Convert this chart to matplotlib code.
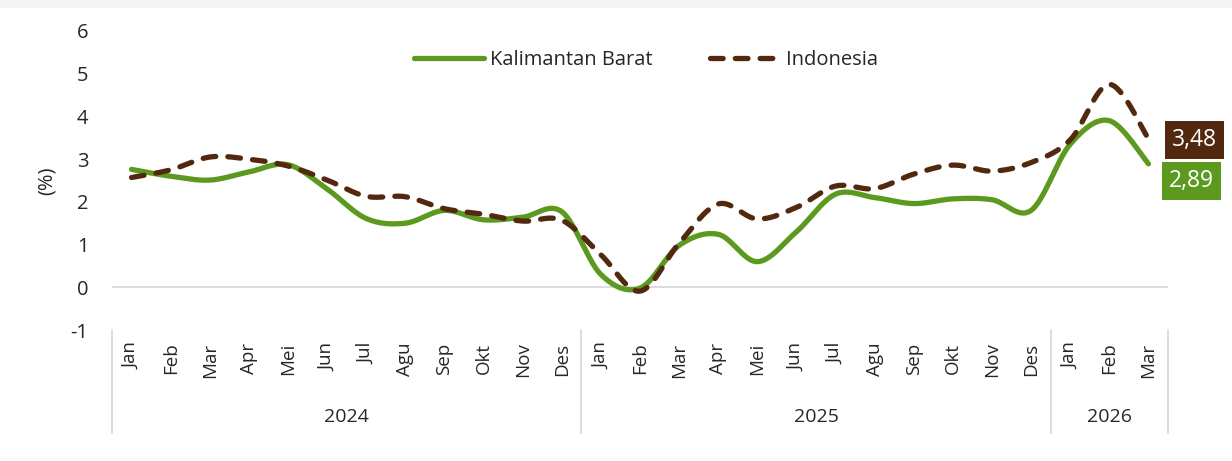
import numpy as np
import matplotlib
matplotlib.use("Agg")
import matplotlib.pyplot as plt
import matplotlib.transforms as mtransforms
from matplotlib.lines import Line2D
from matplotlib.patches import Rectangle

plt.rcParams['font.family'] = ['Open Sans', 'DejaVu Sans']

months = ["Jan", "Feb", "Mar", "Apr", "Mei", "Jun", "Jul", "Agu", "Sep", "Okt", "Nov", "Des",
          "Jan", "Feb", "Mar", "Apr", "Mei", "Jun", "Jul", "Agu", "Sep", "Okt", "Nov", "Des",
          "Jan", "Feb", "Mar"]
years = ["2024", "2025", "2026"]
year_counts = [12, 12, 3]

kalbar = [2.76, 2.60, 2.51, 2.70, 2.87, 2.30, 1.61, 1.50, 1.80, 1.58, 1.64, 1.77,
          0.30, -0.02, 0.98, 1.24, 0.60, 1.30, 2.18, 2.10, 1.96, 2.07, 2.05, 1.80,
          3.35, 3.90, 2.89]
indonesia = [2.57, 2.75, 3.05, 3.00, 2.84, 2.51, 2.13, 2.12, 1.84, 1.71, 1.55, 1.57,
             0.76, -0.09, 1.03, 1.95, 1.60, 1.87, 2.37, 2.31, 2.65, 2.86, 2.72, 2.92,
             3.45, 4.75, 3.48]

GREEN = '#5c9a1f'
BROWN = '#52290f'
GRID = '#d9d9d9'
TXT = '#262626'


def smooth(xs, ys, n=40):
    # excel-style smoothed line (bezier through the points)
    x = np.asarray(xs, float)
    y = np.asarray(ys, float)
    xp = np.concatenate([[x[0]], x, [x[-1]]])
    yp = np.concatenate([[y[0]], y, [y[-1]]])
    t = np.linspace(0, 1, n, endpoint=False)[:, None]
    out = []
    for i in range(len(x) - 1):
        p0 = np.array([xp[i], yp[i]])
        p1 = np.array([xp[i + 1], yp[i + 1]])
        p2 = np.array([xp[i + 2], yp[i + 2]])
        p3 = np.array([xp[i + 3], yp[i + 3]])
        b1 = p1 + (p2 - p0) / 6
        b2 = p2 - (p3 - p1) / 6
        seg = ((1 - t) ** 3) * p1 + 3 * ((1 - t) ** 2) * t * b1 + 3 * (1 - t) * t ** 2 * b2 + t ** 3 * p2
        out.append(seg)
    out.append(np.array([[x[-1], y[-1]]]))
    pts = np.vstack(out)
    return pts[:, 0], pts[:, 1]


W, H = 1232, 461
fig = plt.figure(figsize=(W / 100, H / 100), dpi=100)
fig.patches.append(Rectangle((0, 1 - 8 / H), 1, 8 / H, transform=fig.transFigure,
                             facecolor='#f4f4f4', edgecolor='none', zorder=0))

ax = fig.add_axes([112 / W, 1 - 330 / H, (1168 - 112) / W, (330 - 31) / H])
x = np.arange(len(months))
ax.set_xlim(-0.5, len(months) - 0.5)
ax.set_ylim(-1, 6)
for s in ax.spines.values():
    s.set_visible(False)

ax.axhline(0, color=GRID, lw=1.3, zorder=1)

sx, sy = smooth(x, kalbar)
ax.plot(sx, sy, color=GREEN, lw=3.8, solid_capstyle='round', zorder=3)
ix, iy = smooth(x, indonesia)
ax.plot(ix, iy, color=BROWN, lw=3.8, dashes=(2.4, 2.3), dash_capstyle='round', zorder=4)

ax.set_yticks(range(-1, 7))
ax.set_yticklabels([str(v) for v in range(-1, 7)], fontsize=14.5, color=TXT)
ax.set_xticks(x)
ax.set_xticklabels(months, rotation=90, fontsize=13.5, color=TXT, va='top')
ax.tick_params(axis='y', length=0, pad=17)
ax.tick_params(axis='x', length=0, pad=9)

# year groups
trans = mtransforms.blended_transform_factory(ax.transData, ax.transAxes)
bounds = [-0.5]
for c in year_counts:
    bounds.append(bounds[-1] + c)
for b in bounds:
    ax.plot([b, b], [0, -0.345], transform=trans, color=GRID, lw=1.3, clip_on=False)
for i, yr in enumerate(years):
    ax.text((bounds[i] + bounds[i + 1]) / 2, -0.291, yr, transform=trans,
            ha='center', va='center', fontsize=14, color=TXT)

fig.text(47 / W, 1 - 181 / H, '(%)', rotation=90, ha='center', va='center', fontsize=14.5, color=TXT)

handles = [Line2D([], [], color=GREEN, lw=3.8, solid_capstyle='round'),
           Line2D([], [], color=BROWN, lw=3.8, dashes=(2.4, 2.3), dash_capstyle='round')]
fig.legend(handles, ['Kalimantan Barat', 'Indonesia'], loc='center', ncol=2,
           bbox_to_anchor=(646 / W, 1 - 60 / H), frameon=False, fontsize=14.5,
           handlelength=3.5, handletextpad=0.3, columnspacing=2.8, labelcolor=TXT)

last = len(months) - 1
ax.annotate(f"{indonesia[-1]:.2f}".replace('.', ','), xy=(last, indonesia[-1]),
            xytext=(33, -1), textcoords='offset points', ha='center', va='center',
            color='white', fontsize=16.5,
            bbox=dict(boxstyle='square,pad=0.3', fc=BROWN, ec='none'))
ax.annotate(f"{kalbar[-1]:.2f}".replace('.', ','), xy=(last, kalbar[-1]),
            xytext=(31, -12.5), textcoords='offset points', ha='center', va='center',
            color='white', fontsize=16.5,
            bbox=dict(boxstyle='square,pad=0.3', fc=GREEN, ec='none'))

fig.savefig('out.png', dpi=100)
